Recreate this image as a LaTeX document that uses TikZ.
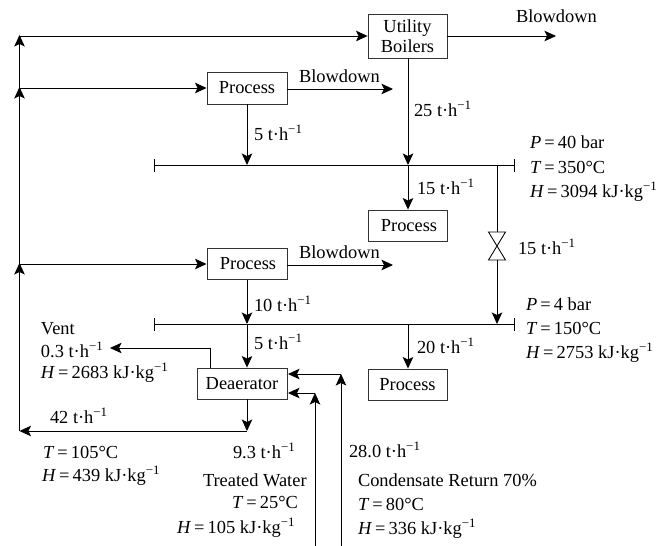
\documentclass[tikz,border=0pt]{standalone}
\usepackage{fontspec}
\setmainfont{Liberation Serif}
\usetikzlibrary{arrows.meta}
\newcommand\tph{t·h\textsuperscript{−1}}
\newcommand\kj{kJ·kg\textsuperscript{−1}}
\newcommand\eqq{\kern0.17em=\kern0.17em}
\tikzset{
  flow/.style={line width=0.85pt,-{Stealth[length=11.5pt,width=10.5pt,inset=2.5pt]}},
  pipe/.style={line width=0.85pt},
  unit/.style={draw=black!80,line width=0.9pt,inner sep=0pt,align=center,fill=white},
  lab/.style={anchor=base west,inner sep=0pt,outer sep=0pt},
}
\begin{document}
\begin{tikzpicture}[x=1pt,y=-1pt,font=\fontsize{18.4}{20}\selectfont]
\useasboundingbox (0,0) rectangle (665,546);
% units
\node[unit,minimum width=79pt,minimum height=44pt] (boil) at (407.5,36) {Utility\\Boilers};
\node[unit,minimum width=80pt,minimum height=32pt] (p1) at (247,88) {Process};
\node[unit,minimum width=79pt,minimum height=31pt] (p2) at (407.5,225.5) {\kern3pt Process};
\node[unit,minimum width=80pt,minimum height=31pt] (p3) at (247,264) {\kern2pt Process};
\node[unit,minimum width=90pt,minimum height=31pt] (dea) at (242,383.5) {Deaerator};
\node[unit,minimum width=79pt,minimum height=31pt] (p4) at (407.5,384.5) {Process};
% junctions and free ends
\coordinate (busA) at (19.5,36);
\coordinate (busB) at (19.5,88);
\coordinate (busC) at (19.5,264);
\coordinate (busD) at (19.5,431);
\coordinate (h1L) at (154.5,165); \coordinate (h1R) at (514,165);
\coordinate (h2L) at (154.5,324); \coordinate (h2R) at (514,324);
\coordinate (h1a) at (247,165); \coordinate (h1b) at (408,165); \coordinate (h1c) at (497,165);
\coordinate (h2a) at (247,324); \coordinate (h2b) at (408,324); \coordinate (h2c) at (497,324);
\coordinate (vt) at (497,232); \coordinate (vb) at (497,260);
\coordinate (bdA) at (556,36);
\coordinate (bdB) at (393,89);
\coordinate (bdC) at (393,265);
\coordinate (vUp) at (210,368); \coordinate (vCorner) at (210,348); \coordinate (vEnd) at (110,348);
\coordinate (dOut) at (247,431);
\coordinate (twIn) at (288,393); \coordinate (twC) at (315,393); \coordinate (twS) at (315,546);
\coordinate (crIn) at (288,374); \coordinate (crC) at (341,374); \coordinate (crS) at (341,546);
% left return bus
\draw[flow] (busD) -- ([yshift=1pt]busC);
\draw[flow] (busC) -- ([yshift=1pt]busB);
\draw[flow] (busB) -- ([yshift=1pt]busA);
\draw[flow] (busA) -- (boil.west |- busA);
\draw[flow] (busB) -- (p1.west |- busB);
\draw[flow] (busC) -- (p3.west |- busC);
% headers
\draw[pipe] (h1L) -- (h1R);
\draw[pipe] (h2L) -- (h2R);
\draw[pipe] ([yshift=-6.5pt]h1L) -- ([yshift=6.5pt]h1L);
\draw[pipe] ([yshift=-6.5pt]h1R) -- ([yshift=6.5pt]h1R);
\draw[pipe] ([yshift=-6.5pt]h2L) -- ([yshift=6.5pt]h2L);
\draw[pipe] ([yshift=-6.5pt]h2R) -- ([yshift=6.5pt]h2R);
% flows
\draw[flow] (boil.east) -- (bdA);
\draw[flow] (p1.east |- bdB) -- (bdB);
\draw[flow] (p3.east |- bdC) -- (bdC);
\draw[flow] (boil.south -| h1b) -- (h1b);
\draw[flow] (p1.south) -- (h1a);
\draw[flow] (h1b) -- (p2.north -| h1b);
\draw[pipe] (h1c) -- (vt);
\draw[pipe] (vt) -- ++(-8.5,0) -- (505.5,260) -- (488.5,260) -- (505.5,232) -- cycle;
\draw[flow] (vb) -- (h2c);
\draw[flow] (p3.south) -- (h2a);
\draw[flow] (h2a) -- (dea.north -| h2a);
\draw[flow] (h2b) -- (p4.north -| h2b);
\draw[flow] (vUp) -- (vCorner) -- (vEnd);
\draw[flow] (dea.south -| dOut) -- (dOut);
\draw[flow] (dOut) -- (busD);
\draw[flow] (twC) -- (twIn);
\draw[flow] (crC) -- (crIn);
\draw[flow] (twS) -- (twC);
\draw[flow] (crS) -- (crC);
% labels
\node[lab] (t1) at (516,23) {Blowdown};
\node[lab] (t2) at (299,82) {Blowdown};
\node[lab] (t3) at (299,258) {Blowdown};
\node[lab] (t4) at (254,140) {5 \tph};
\node[lab] (t5) at (414,116) {25 \tph};
\node[lab] (t6) at (417,194) {15 \tph};
\node[lab] (t7) at (518,254) {15 \tph};
\node[lab] (t8) at (254,311) {10 \tph};
\node[lab] (t9) at (254,349) {5 \tph};
\node[lab] (t10) at (417,353) {20 \tph};
\node[lab] (t11) at (530,148) {\textit{P}\eqq 40 bar};
\node[lab] (t12) at (530,173) {\textit{T}\eqq 350°C};
\node[lab] (t13) at (530,197) {\textit{H}\eqq 3094 \kj};
\node[lab] (t14) at (526,310) {\textit{P}\eqq 4 bar};
\node[lab] (t15) at (526,334) {\textit{T}\eqq 150°C};
\node[lab] (t16) at (526,358) {\textit{H}\eqq 2753 \kj};
\node[lab] (t17) at (41,334) {Vent};
\node[lab] (t18) at (41,357) {0.3 \tph};
\node[lab] (t19) at (41,378) {\textit{H}\eqq 2683 \kj};
\node[lab] (t20) at (50,423) {42 \tph};
\node[lab] (t21) at (43,458) {\textit{T}\eqq 105°C};
\node[lab] (t22) at (42,481) {\textit{H}\eqq 439 \kj};
\node[lab] (t23) at (233,458) {9.3 \tph};
\node[lab] (t24) at (203,486) {Treated Water};
\node[lab] (t25) at (232,508) {\textit{T}\eqq 25°C};
\node[lab] (t26) at (177,533) {\textit{H}\eqq 105 \kj};
\node[lab] (t27) at (349,457) {28.0 \tph};
\node[lab] (t28) at (358,486) {Condensate Return 70\%};
\node[lab] (t29) at (358,510) {\textit{T}\eqq 80°C};
\node[lab] (t30) at (358,534) {\textit{H}\eqq 336 \kj};
\end{tikzpicture}
\end{document}
